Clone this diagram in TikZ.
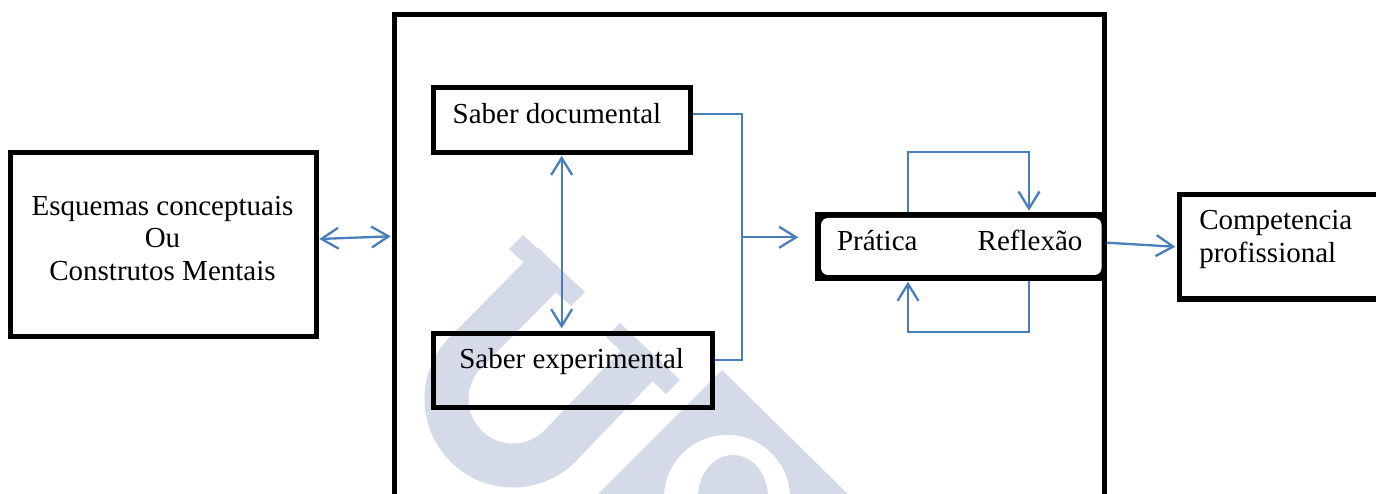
\documentclass[tikz,border=0pt]{standalone}
\usepackage{fontspec}
\setmainfont{Liberation Serif}
\usetikzlibrary{arrows.meta,calc}
\definecolor{lnblue}{RGB}{74,126,187}
\definecolor{wmark}{RGB}{212,218,231}
\newcommand\mystrut{\rule[-9.9pt]{0pt}{33pt}}
\begin{document}
\begin{tikzpicture}[x=1pt,y=-1pt,
  box/.style={draw=black, line width=5pt, inner sep=0pt, outer sep=0pt},
  txt/.style={inner sep=0pt, outer sep=0pt, font=\fontsize{29}{33}\selectfont},
  conn/.style={draw=lnblue, line width=2.3pt},
  tipto/.style={-{Straight Barb[length=17pt,width=21pt]}},
  tipboth/.style={{Straight Barb[length=17pt,width=21pt]}-{Straight Barb[length=17pt,width=21pt]}}]
\useasboundingbox (0,0) rectangle (1376,494);
\clip (0,0) rectangle (1376,494);
\fill[white] (0,0) rectangle (1376,494);
% watermark
\draw[wmark, line width=44pt] (554,263) -- (466,352) .. controls (440,378) and (440,420) .. (466,446) .. controls (492,472) and (534,472) .. (560,446) -- (650,352);
\fill[wmark] (523,235) -- (585,292) -- (571,306) -- (509,249) -- cycle;
\fill[wmark] (620,323) -- (680,380) -- (666,394) -- (606,337) -- cycle;
\fill[wmark] (722,370) -- (864,510) -- (582,510) -- cycle;
\fill[white] (727,498) ellipse [x radius=63pt, y radius=63pt];
\fill[wmark] (733,497) ellipse [x radius=35pt, y radius=42pt];
% boxes
\node[fill=black, inner sep=0pt, outer sep=0pt, minimum width=289pt, minimum height=69pt] (prat) at (959.5,246.5) {};
\node[fill=white, rounded corners=7pt, inner sep=0pt, outer sep=0pt, minimum width=280.5pt, minimum height=57pt] (pratin) at (961.25,246.5) {};
\node[box, anchor=north west, minimum width=709.5pt, minimum height=600pt] (frame) at (394.5,15) {};
\node[box, minimum width=305.5pt, minimum height=184.3pt] (esq) at (163.25,244.6) {};
\node[box, minimum width=256.7pt, minimum height=64.8pt] (sdoc) at (561.65,119.9) {};
\node[box, minimum width=279.2pt, minimum height=74.2pt] (sexp) at (572.9,370.4) {};
\node[box, line width=5.5pt, minimum width=270.5pt, minimum height=104.5pt] (comp) at (1314.75,246.75) {};
% texts
\node[txt, anchor=north, align=center] (esqt) at (162.5,191.9) {\mystrut Esquemas conceptuais\\ \mystrut Ou\\ \mystrut Construtos Mentais};
\node[txt, anchor=base west] (sdoct) at (452.7,123.3) {Saber documental};
\node[txt, anchor=base west] (sexpt) at (459.3,368.3) {Saber experimental};
\node[txt, anchor=base west] (pratt) at (837,251) {Prática};
\node[txt, anchor=base west] (reflt) at (977.7,251) {Reflexão};
\node[txt, anchor=north west, align=left] (compt) at (1199.3,206.9) {\mystrut Competencia\\ \mystrut profissional};
% connectors
\coordinate (mx) at (741.7,237.3);
\draw[conn, tipboth] ($(esq.east)+(3.3,-5.6)$) -- ($(frame.west)+(-3.8,-78.7)$);
\draw[conn, tipboth] ($(sdoc.south)+(0,3.5)$) -- ($(sdoc.south |- sexp.north)+(0,-5)$);
\draw[conn] ($(sdoc.east)+(2.7,-5.6)$) -| (mx) |- ($(sexp.east)+(2.5,-10.4)$);
\draw[conn, tipto] (mx) -- ($(prat.west)+(-16.7,-9.2)$);
\draw[conn, tipto] ($(prat.north)+(-51.8,0)$) -- ++(0,-59.7) -| ($(prat.north)+(69.5,-1.3)$);
\draw[conn, tipto] ($(prat.south)+(69.5,0)$) -- ++(0,51.3) -| ($(prat.south)+(-51.5,0.7)$);
\draw[conn, tipto] ($(prat.east)+(2.7,-3.8)$) -- ($(comp.west)+(-4.2,0)$);
\end{tikzpicture}
\end{document}
